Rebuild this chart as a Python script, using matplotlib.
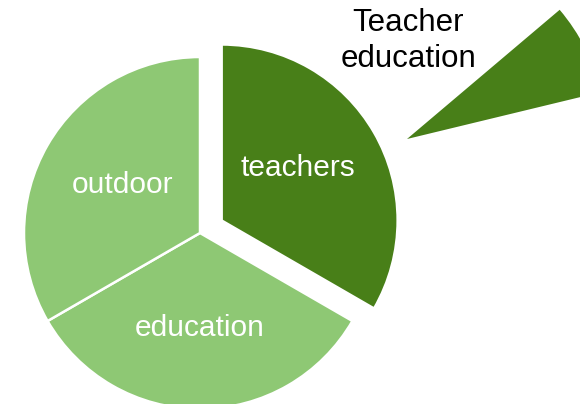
import matplotlib
matplotlib.use("Agg")
import matplotlib.pyplot as plt

# main pie: three equal shares, "teachers" pulled out
labels = ["teachers", "education", "outdoor"]
shares = [1, 1, 1]
explode = [25, 0, 0]
colors = ["#487F18", "#8EC874", "#8EC874"]

# second pie: only the "Teacher education" slice is visible
sub_shares = [7.4, 92.6]
sub_colors = ["#487F18", "none"]
sub_title = "Teacher\neducation"

plt.rcParams["font.family"] = ["Liberation Sans", "DejaVu Sans"]

fig = plt.figure(figsize=(5.8, 4.04), dpi=100)
ax = fig.add_axes([0, 0, 1, 1])

# pixel-like data units, y up
main_center = (200, 171)
main_radius = 176
sub_center = (407, 265)
sub_radius = 200

wedges, texts = ax.pie(shares, labels=labels, explode=explode, colors=colors,
                       startangle=90, counterclock=False,
                       center=main_center, radius=main_radius,
                       labeldistance=0.54,
                       wedgeprops=dict(edgecolor="white", linewidth=1.8),
                       textprops=dict(ha="center", va="center", color="white",
                                      fontsize=21.5))
# small nudges so labels sit like the original
texts[0].set_x(texts[0].get_position()[0] - 6)
texts[0].set_y(texts[0].get_position()[1] + 5)
texts[2].set_x(texts[2].get_position()[0] + 5)

sub_wedges, _ = ax.pie(sub_shares, colors=sub_colors, startangle=13.6,
                       center=sub_center, radius=sub_radius,
                       wedgeprops=dict(linewidth=0))
sub_wedges[1].set_visible(False)

ax.text(sub_center[0] + 1, sub_center[1] + 98, sub_title, ha="center", va="center",
        fontsize=22.5, color="black", linespacing=1.25)

ax.set_xlim(0, 580)
ax.set_ylim(0, 404)
ax.set_aspect("equal")
ax.axis("off")

fig.savefig("out.png", dpi=100)
